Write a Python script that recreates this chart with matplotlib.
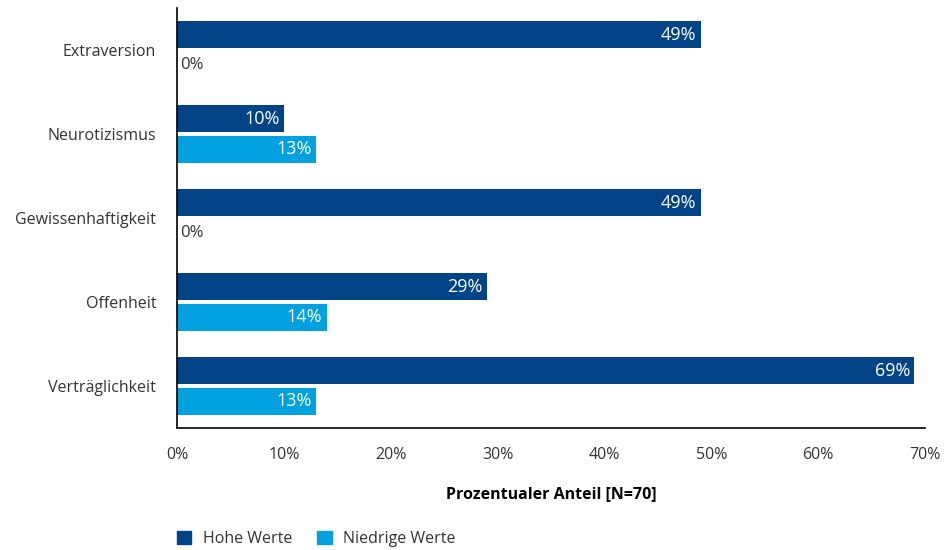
import matplotlib
matplotlib.use("Agg")
import matplotlib.pyplot as plt
from matplotlib.patches import Patch
import numpy as np

plt.rcParams['font.family'] = ['Open Sans', 'DejaVu Sans']

categories = ["Extraversion", "Neurotizismus", "Gewissenhaftigkeit", "Offenheit", "Verträglichkeit"]
hohe_werte = [49, 10, 49, 29, 69]
niedrige_werte = [0, 13, 0, 14, 13]
series_names = ["Hohe Werte", "Niedrige Werte"]
xticks = [0, 10, 20, 30, 40, 50, 60, 70]

dark_blue = "#004487"
light_blue = "#00A1DE"
text_col = "#333333"

fig = plt.figure(figsize=(9.49, 5.5), dpi=100)
ax = fig.add_axes([177/949, 1-428/550, (925-177)/949, (428-8)/550])

y = np.arange(len(categories))
h = 0.32
off = 0.18
ax.barh(y - off, hohe_werte, height=h, color=dark_blue)
ax.barh(y + off, niedrige_werte, height=h, color=light_blue)

fs = 11.5
lfs = 13


def label_bar(ypos, v):
    if v > 0:
        ax.text(v - 0.4, ypos, f"{v}%", ha="right", va="center", color="white", fontsize=lfs)
    else:
        ax.text(0.3, ypos, f"{v}%", ha="left", va="center", color=text_col, fontsize=12)


for yi, v in zip(y - off, hohe_werte):
    label_bar(yi, v)
for yi, v in zip(y + off, niedrige_werte):
    label_bar(yi, v)

ax.set_xlim(0, 70)
ax.set_ylim(len(categories) - 0.5, -0.5)
ax.set_yticks(y)
ax.set_yticklabels(categories, fontsize=fs, color=text_col)
ax.set_xticks(xticks)
ax.set_xticklabels([f"{t}%" for t in xticks], fontsize=fs, color=text_col)
ax.tick_params(axis="both", length=0)
ax.tick_params(axis="y", pad=15)
ax.tick_params(axis="x", pad=14)
for s in ["top", "right"]:
    ax.spines[s].set_visible(False)
for s in ["left", "bottom"]:
    ax.spines[s].set_color("black")
    ax.spines[s].set_linewidth(1.2)

ax.set_xlabel("Prozentualer Anteil [N=70]", fontsize=fs, fontweight="bold", color="black", labelpad=16)

handles = [Patch(color=dark_blue), Patch(color=light_blue)]
fig.legend(handles, series_names, loc="center left", bbox_to_anchor=(177/949, 1-539/550),
           ncol=2, frameon=False, fontsize=fs, handlelength=0.9, handleheight=0.9,
           handletextpad=0.7, columnspacing=1.6, labelcolor=text_col,
           borderpad=0, borderaxespad=0)

fig.savefig("out.png", dpi=100)
